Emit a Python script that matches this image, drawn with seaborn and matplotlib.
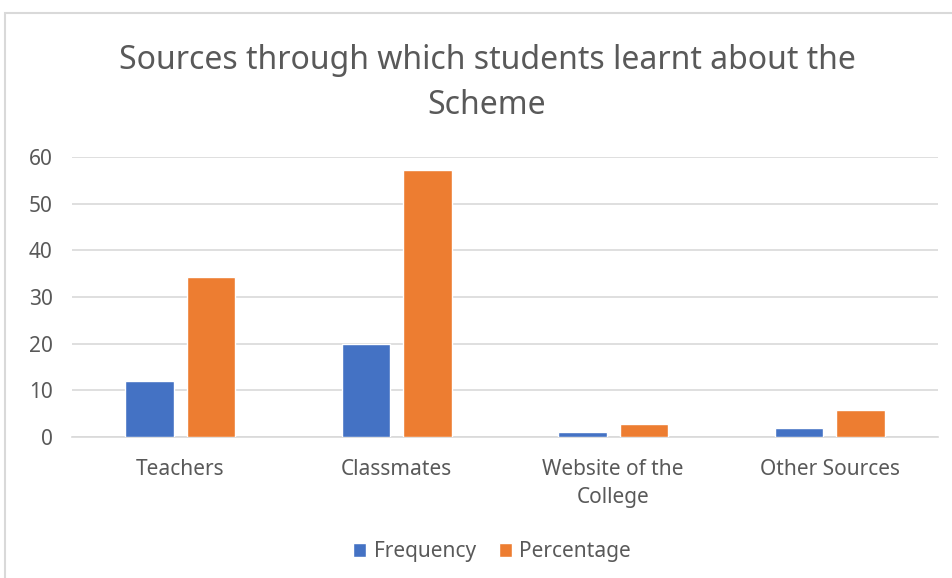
import pandas as pd
import matplotlib.pyplot as plt
import seaborn as sns
from matplotlib.patches import Rectangle

categories = ['Teachers', 'Classmates', 'Website of the\nCollege', 'Other Sources']
frequency = [12, 20, 1, 2]
percentage = [34.29, 57.14, 2.86, 5.71]

df = pd.DataFrame({
    'Source': categories * 2,
    'Value': frequency + percentage,
    'Series': ['Frequency'] * 4 + ['Percentage'] * 4,
})

sns.set_style('white')
plt.rcParams['font.family'] = ['Noto Sans', 'DejaVu Sans']

fig = plt.figure(figsize=(9.53, 5.78), dpi=100)
ax = fig.add_axes([72 / 953, 1 - 437 / 578, (938 - 72) / 953, (437 - 157) / 578])

sns.barplot(data=df, x='Source', y='Value', hue='Series',
            palette=['#4472C4', '#ED7D31'], width=0.568, gap=0.21,
            saturation=1, ax=ax, zorder=3)

ax.set_ylim(0, 60)
ax.set_xlim(-0.5, 3.5)
ax.set_yticks(range(0, 61, 10))
ax.yaxis.grid(True, color='#D9D9D9', linewidth=1.2, zorder=0)
for s in ['top', 'right', 'left']:
    ax.spines[s].set_visible(False)
ax.spines['bottom'].set_color('#D9D9D9')
ax.spines['bottom'].set_linewidth(1.2)
ax.tick_params(axis='both', length=0, labelsize=15, colors='#595959')
ax.tick_params(axis='x', pad=16)
ax.tick_params(axis='y', pad=14)
for lbl in ax.get_xticklabels():
    lbl.set_linespacing(1.45)
ax.set_xlabel('')
ax.set_ylabel('')

fig.text(487 / 953, 1 - 83 / 578, 'Sources through which students learnt about the\nScheme',
         ha='center', va='center', fontsize=23, color='#595959', linespacing=1.45)

ax.legend(loc='center', bbox_to_anchor=(492 / 953, 1 - 552 / 578),
          bbox_transform=fig.transFigure, ncol=2, frameon=False,
          fontsize=15, labelcolor='#595959', handlelength=0.65,
          handleheight=0.65, columnspacing=1.1, handletextpad=0.35)

fig.patches.append(Rectangle((4.5 / 953, -0.1), 1.2, 1 - 13.5 / 578 + 0.1,
                             transform=fig.transFigure, fill=False,
                             edgecolor='#D9D9D9', linewidth=1.5))

fig.savefig('out.png', dpi=100, facecolor='white')
